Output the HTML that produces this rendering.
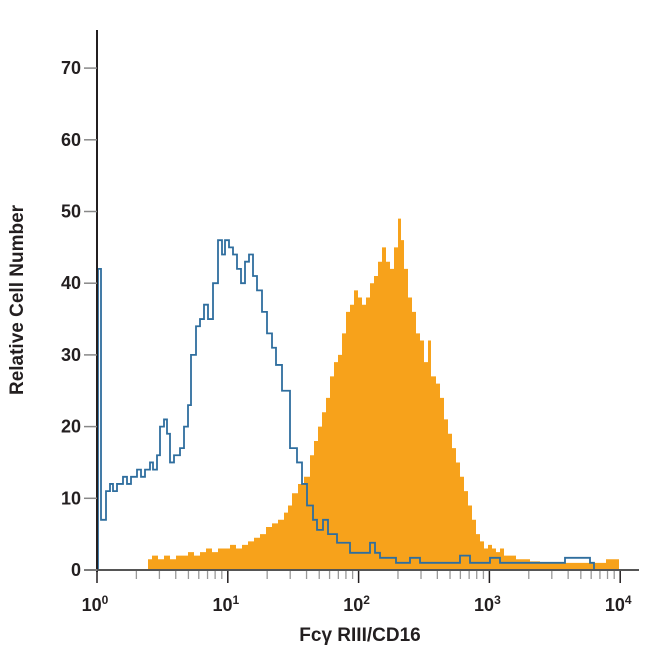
<!DOCTYPE html>
<html><head><meta charset="utf-8"><style>
html,body{margin:0;padding:0;background:#fff;width:650px;height:650px;overflow:hidden}
svg text{font-family:"Liberation Sans Narrow","Liberation Sans",sans-serif;fill:#231f20}
</style></head><body>
<svg id="s" width="650" height="650" viewBox="0 0 650 650" xmlns="http://www.w3.org/2000/svg">
<g id="plot"></g>
<line x1="97" y1="30" x2="97" y2="572" stroke="#231f20" stroke-width="2"/>
<line x1="84" y1="570" x2="639" y2="570" stroke="#555" stroke-width="2"/>
<g id="ax" font-size="18" font-weight="bold"></g>
<text x="0" y="0" font-size="19" font-weight="bold" text-anchor="middle" transform="translate(23,300) rotate(-90)">Relative Cell Number</text>
<text x="360" y="641" font-size="19" font-weight="bold" text-anchor="middle">Fcγ RIII/CD16</text>
</svg>
<script>
var Y=function(v){return 570-v*7.17;};
var ax=document.getElementById('ax'),pl=document.getElementById('plot'),ns='http://www.w3.org/2000/svg';
function el(t,a,p,txt){var e=document.createElementNS(ns,t);for(var k in a)e.setAttribute(k,a[k]);if(txt!=null)e.textContent=txt;(p||ax).appendChild(e);return e;}
for(var v=0;v<=70;v+=10){var y=Y(v);el('line',{x1:84,y1:y,x2:97,y2:y,stroke:'#888','stroke-width':1.5});el('text',{x:81,y:y+6,'text-anchor':'end'},null,String(v));}
var X0=97,D=130.8;
for(var d=0;d<4;d++){for(var m=2;m<10;m++){var x=X0+D*(d+Math.log10(m));el('line',{x1:x,y1:571,x2:x,y2:579,stroke:'#999','stroke-width':1.3});}}
for(var d=0;d<=4;d++){var x=X0+D*d;el('line',{x1:x,y1:571,x2:x,y2:583,stroke:'#231f20','stroke-width':1.5});
var t=el('text',{x:x-2,y:611,'text-anchor':'middle'},null,'10');var ts=document.createElementNS(ns,'tspan');ts.setAttribute('dy','-7');ts.setAttribute('font-size','12');ts.textContent=String(d);t.appendChild(ts);}
// orange
var O=[[148,1.5],[152,2],[158,1.5],[164,2],[170,1.5],[176,2],[182,2],[188,2.5],[194,2],[200,2.5],[206,3],[212,2.5],[218,3],[224,3],[230,3.5],[236,3],[242,3.5],[248,4],[254,4.5],[260,5],[266,6],[272,6.5],[278,7],[284,8],[288,9],[292,10.7],[298,12],[304,13],[310,16],[314,18],[318,20],[322,22],[326,24],[330,27],[334,29],[338,30],[342,33],[346,36],[350,37],[354,39],[358,38],[362,37],[366,38],[370,40],[374,41],[378,43],[382,45],[386,43],[390,42],[394,45],[398,49],[401,46],[404,42],[408,38],[412,36],[416,33],[420,32],[424,29],[428,32],[431,27],[436,26],[440,24],[444,21],[448,19],[452,17],[456,15],[460,13],[464,11],[468,9],[472,7],[476,5],[480,4],[484,3],[488,3.5],[492,3],[496,2.5],[500,3],[504,2],[510,2],[516,1.5],[522,1.5],[530,1.2],[540,1],[560,1],[580,1],[600,1],[606,1.5],[615,1.5]];
var d='M'+O[0][0]+' 570';for(var i=0;i<O.length;i++){var nx=i+1<O.length?O[i+1][0]:O[i][0]+4;d+=' L'+O[i][0]+' '+Y(O[i][1])+' L'+nx+' '+Y(O[i][1]);}d+=' L'+(O[O.length-1][0]+4)+' 570 Z';
el('path',{d:d,fill:'#f7a21b',stroke:'none'},pl);
// blue
var B=[[98,42],[101,7],[106,11],[110,12],[113,11],[117,12],[123,13],[127,12],[131,13],[137,14],[141,13],[145,14],[150,15],[153,14],[157,16],[160,20],[164,21],[167,19],[170,15],[174,16],[180,17],[184,20],[188,23],[191,30],[196,34],[200,35],[204,37],[208,35],[213,40],[218,46],[222,44],[225,46],[229,45],[233,44],[237,42],[241,40],[245,43],[249,44],[253,41],[257,39],[262,36],[267,33],[272,31],[276,28.6],[282,25],[286,25],[290,17],[297,15],[302,12],[307,9],[313,7],[317,5.6],[323,7],[328,5],[337,3.8],[350,2.4],[370,3.8],[375,2.4],[380,1.7],[390,1.7],[396,1],[410,1.7],[420,1],[450,1],[460,2],[470,1],[490,1.7],[500,1],[520,1],[560,1],[565,1.7],[585,1.7],[590,1],[594,0]];
var p='M98 570';for(var i=0;i<B.length;i++){var nx=i+1<B.length?B[i+1][0]:B[i][0];p+=' L'+B[i][0]+' '+Y(B[i][1])+' L'+nx+' '+Y(B[i][1]);}
el('path',{d:p,fill:'none',stroke:'#2f6e9e','stroke-width':1.8},pl);
</script>
</body></html>
